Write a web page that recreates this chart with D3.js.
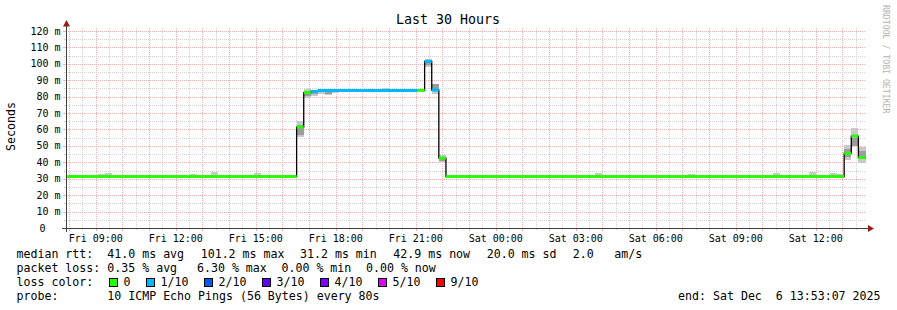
<!DOCTYPE html>
<html>
<head>
<meta charset="utf-8">
<style>
body { margin: 0; background: #fff; }
text { font-family: "DejaVu Sans Mono", monospace; white-space: pre; }
</style>
</head>
<body>
<svg id="chart"></svg>
<script src="https://cdn.jsdelivr.net/npm/d3@7/dist/d3.min.js"></script>
<script>

var parse = d3.timeParse("%Y-%m-%d %H:%M")
var endTime = new Date(2025, 11, 6, 13, 53, 7)
var startTime = d3.timeHour.offset(endTime, -30)
var bucketMin = 16

// median rtt, one entry per step (16 min buckets, flat runs merged)
var stepStart = ["2025-12-05 07:52", "2025-12-05 16:32", "2025-12-05 16:48", "2025-12-05 17:04",
  "2025-12-05 17:20", "2025-12-05 21:04", "2025-12-05 21:20", "2025-12-05 21:36",
  "2025-12-05 21:52", "2025-12-05 22:08", "2025-12-06 13:04", "2025-12-06 13:20",
  "2025-12-06 13:36"]
var lastStepEnd = "2025-12-06 13:52"
var medianMs = [31.4, 61.5, 82.5, 83.2, 83.8, 83.8, 101.5, 84.0, 42.6, 31.3, 45.5, 56.0, 42.9]
var lossTenths = [0, 0, 0, 1, 1, 0, 1, 1, 0, 0, 0, 0, 0]

// smoke (ping spread) per bucket
var smokeStart = ["2025-12-05 09:04", "2025-12-05 09:20", "2025-12-05 10:24", "2025-12-05 12:32",
  "2025-12-05 13:20", "2025-12-05 14:56", "2025-12-05 15:12", "2025-12-05 16:32",
  "2025-12-05 16:48", "2025-12-05 17:04", "2025-12-05 17:20", "2025-12-05 17:36",
  "2025-12-05 17:52", "2025-12-05 18:08", "2025-12-05 19:44", "2025-12-05 21:20",
  "2025-12-05 21:36", "2025-12-05 21:52", "2025-12-06 01:52", "2025-12-06 03:44",
  "2025-12-06 07:12", "2025-12-06 10:24", "2025-12-06 11:44", "2025-12-06 12:32",
  "2025-12-06 12:48", "2025-12-06 13:04", "2025-12-06 13:20", "2025-12-06 13:36"]
var smokeLo = [31, 31, 31, 31, 31, 31, 31, 55.4, 79.0, 80.5, 81.6, 80.8, 82.0, 82.8, 83.5, 98.3,
  81.4, 40.2, 31, 31, 31, 31, 31, 31, 31, 41.4, 49.9, 39.8]
var smokeHi = [33.0, 33.6, 32.3, 33.0, 34.2, 33.6, 32.5, 65.2, 84.5, 83.8, 83.8, 83.8, 83.8, 83.8, 85.2, 103.0,
  87.5, 44.5, 32.3, 33.5, 32.6, 33.5, 34.1, 33.5, 32.9, 50.6, 60.7, 49.5]
var coreLo = [null, null, null, null, null, null, null, 56.5, 80.5, 81.5, null, 81.5, null, null, null, 99.0,
  83.5, 41.0, null, null, null, null, null, null, null, 43.0, 49.9, 43.4]
var coreHi = [null, null, null, null, null, null, null, 62.5, 83.5, 83.0, null, 83.8, null, null, null, 102.5,
  87.5, 43.5, null, null, null, null, null, null, null, 48.0, 54.8, 47.0]

var lossLevels = [0, 1, 2, 3, 4, 5, 9]
var lossLabels = ["0", "1/10", "2/10", "3/10", "4/10", "5/10", "9/10"]
var lossColors = ["#26ff00", "#00b8ff", "#0059ff", "#5e00ff", "#7e00ff", "#dd00ff", "#ff0000"]

var rttLabel = "median rtt:"
var rttStats = ["41.0 ms avg", "101.2 ms max", "31.2 ms min", "42.9 ms now", "20.0 ms sd", "2.0", "am/s"]
var pktLabel = "packet loss:"
var pktStats = ["0.35 % avg", "6.30 % max", "0.00 % min", "0.00 % now"]
var probeText = "10 ICMP Echo Pings (56 Bytes) every 80s"
var endText = "end: Sat Dec  6 13:53:07 2025"


var svg = d3.select("#chart").attr("width", 897).attr("height", 310)
svg.append("rect").attr("width", 897).attr("height", 310).attr("fill", "#ffffff")

var x = d3.scaleTime().domain([startTime, endTime]).range([66, 866])
var y = d3.scaleLinear().domain([0, 121.8]).range([228, 28])

var MINOR = "#d2d2d2", MAJOR = "#f4b0b0"

// grid
var grid = svg.append("g").attr("shape-rendering", "crispEdges")
x.ticks(d3.timeMinute.every(30)).forEach(function(t) {
  var major = t.getMinutes() === 0
  var px = Math.round(x(t)) + 0.5
  grid.append("line").attr("x1", px).attr("x2", px).attr("y1", 28).attr("y2", 228)
    .attr("stroke", major ? MAJOR : MINOR).attr("stroke-dasharray", "1,1")
  grid.append("line").attr("x1", px).attr("x2", px).attr("y1", 228).attr("y2", major ? 231 : 230)
    .attr("stroke", major ? MAJOR : MINOR)
})
d3.range(5, 121, 5).forEach(function(v) {
  var major = v % 10 === 0
  var py = Math.round(y(v)) + 0.5
  grid.append("line").attr("x1", 66).attr("x2", 866).attr("y1", py).attr("y2", py)
    .attr("stroke", major ? MAJOR : MINOR).attr("stroke-dasharray", "1,1")
  grid.append("line").attr("x1", major ? 63 : 64).attr("x2", 66).attr("y1", py).attr("y2", py)
    .attr("stroke", major ? MAJOR : MINOR)
})

var plot = svg.append("g")
svg.append("clipPath").attr("id", "clip").append("rect")
  .attr("x", 66).attr("y", 20).attr("width", 800).attr("height", 210)
plot.attr("clip-path", "url(#clip)")

// smoke
var smoke = plot.append("g").attr("shape-rendering", "crispEdges")
smokeStart.forEach(function(s, i) {
  var t0 = parse(s), t1 = d3.timeMinute.offset(t0, bucketMin)
  smoke.append("rect").attr("x", x(t0)).attr("width", x(t1) - x(t0))
    .attr("y", y(smokeHi[i])).attr("height", y(smokeLo[i]) - y(smokeHi[i]))
    .attr("fill", "#c9c9c9")
  if (coreLo[i] !== null) {
    smoke.append("rect").attr("x", x(t0)).attr("width", x(t1) - x(t0))
      .attr("y", y(coreHi[i])).attr("height", y(coreLo[i]) - y(coreHi[i]))
      .attr("fill", "#9c9c9c")
  }
})

// median: black step line, then loss coloured segments
var steps = stepStart.map(function(s, i) {
  return { t0: parse(s), t1: parse(i + 1 < stepStart.length ? stepStart[i + 1] : lastStepEnd),
           v: medianMs[i], loss: lossTenths[i] }
})
var pts = steps.map(function(d) { return [d.t0, d.v] })
pts.push([steps[steps.length - 1].t1, steps[steps.length - 1].v])
plot.append("path")
  .attr("d", d3.line().x(function(d) { return x(d[0]) }).y(function(d) { return y(d[1]) })
    .curve(d3.curveStepAfter)(pts))
  .attr("fill", "none").attr("stroke", "#000").attr("stroke-width", 1.3)

plot.selectAll("line.med").data(steps).enter().append("line")
  .attr("class", "med")
  .attr("x1", function(d) { return x(d.t0) }).attr("x2", function(d) { return x(d.t1) })
  .attr("y1", function(d) { return y(d.v) }).attr("y2", function(d) { return y(d.v) })
  .attr("stroke", function(d) { return lossColors[lossLevels.indexOf(d.loss)] })
  .attr("stroke-width", 3)

// axes
var ax = svg.append("g").attr("shape-rendering", "crispEdges")
ax.append("line").attr("x1", 62).attr("x2", 869).attr("y1", 228.5).attr("y2", 228.5)
  .attr("stroke", "#404040")
ax.append("line").attr("x1", 66.5).attr("x2", 66.5).attr("y1", 232).attr("y2", 24)
  .attr("stroke", "#404040")
svg.append("path").attr("d", "M874,228.5 L868,225 L868,232 Z").attr("fill", "#9a1b1b")
svg.append("path").attr("d", "M66.5,20 L63,26.5 L70,26.5 Z").attr("fill", "#9a1b1b")

// tick labels
var fmt = d3.timeFormat("%a %H:%M")
x.ticks(d3.timeHour.every(3)).forEach(function(t) {
  svg.append("text").attr("x", x(t)).attr("y", 241.5).attr("text-anchor", "middle")
    .attr("font-size", "10px").attr("fill", "#000").text(fmt(t))
})
y.ticks(12).forEach(function(v) {
  svg.append("text").attr("x", v === 0 ? 45.5 : 60.5).attr("y", y(v) + 3.6)
    .attr("text-anchor", "end").attr("font-size", "10px").attr("fill", "#000")
    .text(v === 0 ? "0" : v + " m")
})

// titles
svg.append("text").attr("x", 448).attr("y", 24).attr("text-anchor", "middle")
  .attr("font-size", "13.3px").attr("fill", "#000").text("Last 30 Hours")
svg.append("text").attr("transform", "translate(15,126.5) rotate(-90)")
  .attr("text-anchor", "middle").attr("font-size", "11.6px").attr("fill", "#000").text("Seconds")
svg.append("text").attr("transform", "translate(883,5) rotate(90)")
  .attr("font-size", "8.2px").attr("fill", "#b4b4b4").text("RRDTOOL / TOBI OETIKER")

// legend
var LF = "11.6px"
function ltext(px, py, s, anchor) {
  svg.append("text").attr("x", px).attr("y", py).attr("font-size", LF).attr("fill", "#000")
    .attr("text-anchor", anchor || "start").text(s)
}
ltext(16.5, 258, rttLabel)
var rttX = [107.3, 200.7, 300, 393.3, 486.7, 572.7, 614.3]
rttStats.forEach(function(s, i) { ltext(rttX[i], 258, s) })
ltext(16.5, 272, pktLabel)
var pktX = [107.3, 197, 281.5, 366]
pktStats.forEach(function(s, i) { ltext(pktX[i], 272, s) })
ltext(16.5, 286, "loss color:")
var lx = 109
lossLabels.forEach(function(s, i) {
  svg.append("rect").attr("x", lx + 0.5).attr("y", 278.5).attr("width", 8).attr("height", 8)
    .attr("fill", lossColors[i]).attr("stroke", "#000").attr("shape-rendering", "crispEdges")
  ltext(lx + 14.5, 286, s)
  lx += 30 + 7 * s.length
})
ltext(16.5, 300, "probe:")
ltext(107.3, 300, probeText)
ltext(880.5, 300, endText, "end")

</script>
</body>
</html>
